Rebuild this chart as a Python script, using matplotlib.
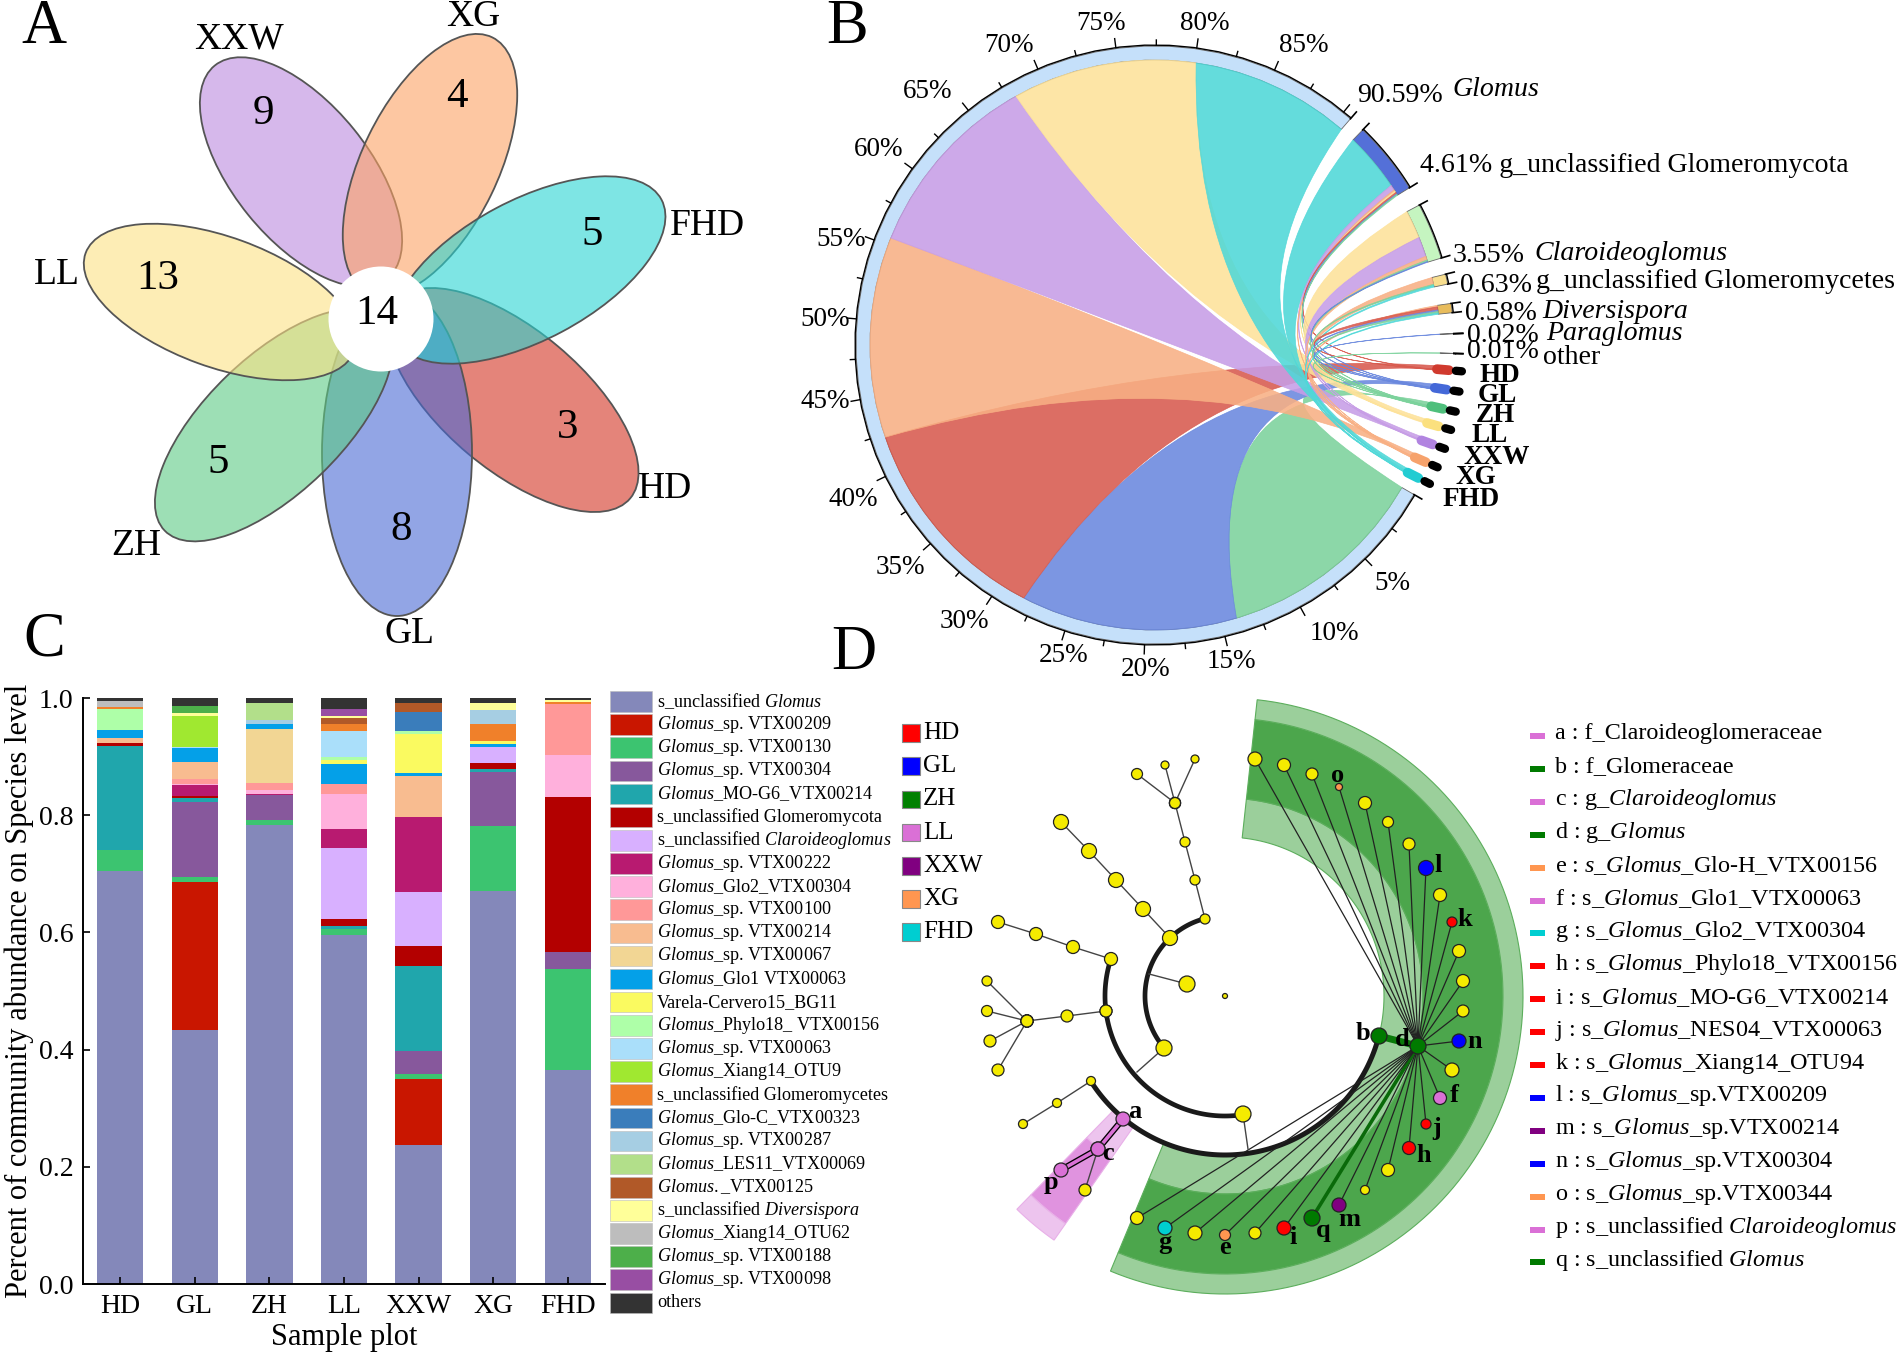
import numpy as np
import matplotlib
matplotlib.use("Agg")
import matplotlib.pyplot as plt
from matplotlib.patches import Ellipse, Circle, PathPatch, Polygon, Rectangle
from matplotlib.path import Path

plt.rcParams['font.family'] = 'Liberation Serif'
plt.rcParams['mathtext.fontset'] = 'custom'
plt.rcParams['mathtext.rm'] = 'Liberation Serif'
plt.rcParams['mathtext.it'] = 'Liberation Serif:italic'
plt.rcParams['mathtext.bf'] = 'Liberation Serif:bold'

# ---- panel A, venn petals (drawn in this order, later ones on top)
venn_names = ['HD', 'GL', 'ZH', 'LL', 'XXW', 'XG', 'FHD']
venn_counts = [3, 8, 5, 13, 9, 4, 5]
venn_core = 14
venn_colors = ['#D23221', '#4969D5', '#5CCB84', '#FCE184', '#BC8ADF', '#FDA364', '#28D5D2']
# centre x, centre y, half length, half width, tilt
petal_cx = [513, 397, 274, 220, 301, 430, 529]
petal_cy = [400, 453, 425, 302, 172, 165, 270]
petal_a = [153, 163, 152, 143, 137, 142, 150]
petal_b = [70, 75, 68, 65, 68, 68, 70]
petal_tilt = [-40, 90, 44, -20, 129, 64, 28]
venn_name_x = [665, 410, 136, 57, 239, 473, 707]
venn_name_y = [489, 634, 546, 275, 39, 17, 226]
venn_num_x = [568, 401, 218, 158, 263, 457, 592]
venn_num_y = [428, 530, 463, 279, 114, 97, 235]

# ---- panel B, chord diagram
chord_samples = ['HD', 'GL', 'ZH', 'LL', 'XXW', 'XG', 'FHD']
chord_colors = {'HD': '#D85A4E', 'GL': '#6A88DE', 'ZH': '#7CD29C', 'LL': '#FDE29A',
                'XXW': '#C79DE6', 'XG': '#F8B084', 'FHD': '#4FD8D8'}
chord_end_colors = {'HD': '#D03A2E', 'GL': '#4468D8', 'ZH': '#4FBF7C', 'LL': '#FBE07E',
                    'XXW': '#B184E0', 'XG': '#F6A26C', 'FHD': '#22CCD2'}
sample_angle = [-4.9, -8.7, -12.5, -16.0, -19.7, -23.4, -26.8]
sample_label_x = [1480, 1478, 1476, 1471, 1463, 1455, 1443]
sample_label_y = [375, 395, 416, 435, 457, 478, 500]

genus_pct = [90.59, 4.61, 3.55, 0.63, 0.58, 0.02, 0.01]
genus_start = [-30, 46, 27.9, 13.7, 8.0, 2.2, -1.6]
genus_ring = ['#C5E0FA', '#5470D8', '#C5F5C0', '#F8DE8E', '#E8BC5C', '#888888', '#888888']
glomus_split = [('ZH', 14.0), ('GL', 14.2), ('HD', 14.1), ('XG', 13.2), ('XXW', 12.5), ('LL', 12.1), ('FHD', 10.49)]
glomeromycota_split = [('FHD', 3.85), ('XXW', 0.35), ('XG', 0.1), ('LL', 0.1), ('HD', 0.1), ('GL', 0.05), ('ZH', 0.06)]
claroideo_split = [('LL', 1.85), ('XXW', 1.3), ('XG', 0.25), ('ZH', 0.1), ('GL', 0.05)]
glomeromycetes_split = [('XG', 0.45), ('ZH', 0.08), ('FHD', 0.1)]
diversispora_split = [('XG', 0.1), ('HD', 0.2), ('GL', 0.1), ('ZH', 0.1), ('FHD', 0.08)]
paraglomus_split = [('GL', 0.02)]
other_split = [('ZH', 0.01)]
genus_splits = [glomus_split, glomeromycota_split, claroideo_split, glomeromycetes_split,
                diversispora_split, paraglomus_split, other_split]
pct_ticks = list(range(5, 90, 5))
pct_x = [1392, 1334, 1231, 1146, 1064, 964, 900, 853, 825, 825, 841, 879, 928, 1009, 1101, 1205, 1304]
pct_y = [583, 633, 662, 670, 656, 622, 568, 500, 401, 319, 239, 149, 91, 46, 24, 24, 46]
# text, x, y, style
chord_text = [('90.59%', 1357, 96, 'normal'), ('Glomus', 1452, 90, 'italic'),
              ('4.61% g_unclassified Glomeromycota', 1420, 166, 'normal'),
              ('3.55%', 1453, 256, 'normal'), ('Claroideoglomus', 1534, 254, 'italic'),
              ('0.63%', 1460, 285, 'normal'), ('g_unclassified Glomeromycetes', 1536, 282, 'normal'),
              ('0.58%', 1465, 313, 'normal'), ('Diversispora', 1542, 311, 'italic'),
              ('0.02%', 1467, 335, 'normal'), ('Paraglomus', 1546, 333, 'italic'),
              ('0.01%', 1467, 352, 'normal'), ('other', 1543, 357, 'normal')]

# ---- panel C, stacked bars
plots = ['HD', 'GL', 'ZH', 'LL', 'XXW', 'XG', 'FHD']
uncl_glomus = [.705, .434, .783, .595, .238, .671, .365]
vtx209 = [0, .252, 0, 0, .112, 0, 0]
vtx130 = [.036, .008, .008, .010, .009, .110, .172]
vtx304 = [0, .129, .044, 0, .039, .093, .030]
mo_g6 = [.177, .007, 0, .006, .145, .005, 0]
uncl_glomeromycota = [.005, .002, 0, .012, .034, .010, .264]
uncl_claro = [0, 0, 0, .121, .092, .028, 0]
vtx222 = [0, .019, .002, .032, .128, 0, 0]
glo2 = [0, .002, .006, .061, 0, 0, .071]
vtx100 = [0, .008, .012, .017, 0, 0, .087]
vtx214 = [.008, .029, 0, 0, .070, 0, .001]
vtx067 = [0, 0, .092, 0, 0, 0, 0]
glo1 = [.015, .024, .009, .034, .005, .005, 0]
varela = [0, 0, 0, .006, .066, .005, 0]
phylo18 = [.035, 0, 0, .006, .005, 0, 0]
vtx063 = [0, .003, 0, .044, 0, 0, 0]
otu9 = [0, .052, 0, 0, 0, 0, 0]
uncl_glomeromycetes = [.003, 0, 0, .011, 0, .028, .004]
glo_c = [0, 0, 0, 0, .033, 0, 0]
vtx287 = [0, 0, .007, 0, 0, .025, 0]
les11 = [0, 0, .029, 0, 0, 0, 0]
vtx125 = [0, 0, 0, .011, .016, 0, 0]
uncl_diversispora = [0, .005, 0, .004, 0, .012, .003]
xiang62 = [.011, 0, 0, 0, 0, 0, 0]
vtx188 = [0, .013, 0, 0, 0, 0, 0]
vtx098 = [0, 0, 0, .011, 0, 0, 0]
others = [.005, .013, .008, .020, .008, .008, .003]
stack_values = [uncl_glomus, vtx209, vtx130, vtx304, mo_g6, uncl_glomeromycota, uncl_claro, vtx222,
                glo2, vtx100, vtx214, vtx067, glo1, varela, phylo18, vtx063, otu9, uncl_glomeromycetes,
                glo_c, vtx287, les11, vtx125, uncl_diversispora, xiang62, vtx188, vtx098, others]
stack_colors = ['#8488BA', '#C91600', '#3CC470', '#87589C', '#20A6AC', '#B30000', '#D8B0FF', '#B81A70',
                '#FFB0DC', '#FF9898', '#F8BC90', '#F2D694', '#04A0E8', '#FAFA60', '#AEFFA8', '#AADFFA',
                '#A0E830', '#F0802A', '#3A7DBB', '#A6CEE3', '#B2DF8A', '#B15928', '#FFFF99', '#BDBDBD',
                '#4DAF4A', '#984EA3', '#333333']
G = r'$\mathit{Glomus}$'
stack_labels = [r's_unclassified ' + G, G + '_sp. VTX00209', G + '_sp. VTX00130', G + '_sp. VTX00304',
                G + '_MO-G6_VTX00214', 's_unclassified Glomeromycota', r's_unclassified $\mathit{Claroideoglomus}$',
                G + '_sp. VTX00222', G + '_Glo2_VTX00304', G + '_sp. VTX00100', G + '_sp. VTX00214',
                G + '_sp. VTX00067', G + '_Glo1 VTX00063', 'Varela-Cervero15_BG11', G + '_Phylo18_ VTX00156',
                G + '_sp. VTX00063', G + '_Xiang14_OTU9', 's_unclassified Glomeromycetes', G + '_Glo-C_VTX00323',
                G + '_sp. VTX00287', G + '_LES11_VTX00069', r'$\mathit{Glomus.}$_VTX00125',
                r's_unclassified $\mathit{Diversispora}$', G + '_Xiang14_OTU62', G + '_sp. VTX00188',
                G + '_sp. VTX00098', 'others']

# ---- panel D, cladogram
clade_names = ['HD', 'GL', 'ZH', 'LL', 'XXW', 'XG', 'FHD']
clade_colors = ['#FF0000', '#0000FF', '#008000', '#DA70D6', '#800080', '#FF9650', '#00CED1']
Y, K, BL, GN, PK, PU, OR, CY = '#F5EB00', '#FF0000', '#0000FF', '#007A00', '#DA70D6', '#800080', '#FF9650', '#00CED1'
# children of d: x, y, radius, colour
d_children = [(1255, 759, 7, Y), (1284, 765, 6.5, Y), (1312, 774, 6, Y), (1339, 787, 3.5, OR), (1365, 803, 6.5, Y),
              (1388, 822, 5.5, Y), (1409, 844, 6, Y), (1426, 868, 7.5, BL), (1440, 895, 6.5, Y), (1452, 922, 5, K),
              (1459, 951, 6.5, Y), (1463, 981, 6.5, Y), (1463, 1011, 6, Y), (1459, 1041, 7, BL), (1452, 1070, 7, Y),
              (1440, 1098, 6.5, PK), (1426, 1124, 5, K), (1409, 1148, 6.5, K), (1388, 1170, 6.5, Y), (1365, 1190, 4.5, Y),
              (1339, 1205, 7, PU), (1312, 1218, 8, GN), (1284, 1228, 7, K), (1255, 1233, 6, Y), (1225, 1235, 5.5, OR),
              (1195, 1233, 7, Y), (1165, 1228, 7, CY), (1137, 1218, 6.5, Y)]
# thin branches as chains of nodes
branch_chains = [[(1170, 938, 7.5), (1143, 909, 7.5), (1116, 880, 7.5), (1089, 851, 7.5), (1061, 822, 7.5)],
                 [(1205, 919, 5), (1195, 880, 5), (1185, 842, 5), (1175, 803, 5.5)],
                 [(1175, 803, 5.5), (1137, 774, 5.5)], [(1175, 803, 5.5), (1165, 765, 4)], [(1175, 803, 5.5), (1195, 759, 4)],
                 [(1111, 959, 6.5), (1073, 947, 6.5), (1036, 934, 6.5), (998, 922, 6.5)],
                 [(1106, 1011, 6), (1067, 1016, 6), (1027, 1021, 6)],
                 [(1027, 1021, 6), (987, 981, 5)], [(1027, 1021, 6), (987, 1011, 5.5)],
                 [(1027, 1021, 6), (990, 1041, 6)], [(1027, 1021, 6), (998, 1070, 6)],
                 [(1091, 1081, 4.5), (1057, 1103, 4.5), (1023, 1124, 4.5)],
                 [(1149, 974, 0), (1187, 984, 8)], [(1137, 1072, 0), (1164, 1048, 8)],
                 [(1248, 1149, 0), (1243, 1114, 8)], [(1098, 1149, 7), (1085, 1190, 6)]]
clade_letters = {'a': (1135, 1111), 'b': (1363, 1034), 'c': (1108, 1154), 'd': (1402, 1039), 'e': (1225, 1248),
                 'f': (1454, 1096), 'g': (1165, 1242), 'h': (1424, 1156), 'i': (1293, 1237), 'j': (1437, 1128),
                 'k': (1465, 919), 'l': (1438, 865), 'm': (1349, 1219), 'n': (1475, 1041), 'o': (1338, 775),
                 'p': (1051, 1183), 'q': (1323, 1231)}
key_letters = ['a', 'b', 'c', 'd', 'e', 'f', 'g', 'h', 'i', 'j', 'k', 'l', 'm', 'n', 'o', 'p', 'q']
key_colors = [PK, GN, PK, GN, OR, PK, CY, K, K, K, K, BL, PU, BL, OR, PK, GN]
key_labels = ['f_Claroideoglomeraceae', 'f_Glomeraceae', r'g_$\mathit{Claroideoglomus}$', r'g_$\mathit{Glomus}$',
              r'$\mathit{s\_Glomus}$_Glo-H_VTX00156', r's_$\mathit{Glomus}$_Glo1_VTX00063',
              r's_$\mathit{Glomus}$_Glo2_VTX00304', r's_$\mathit{Glomus}$_Phylo18_VTX00156',
              r's_$\mathit{Glomus}$_MO-G6_VTX00214', r's_$\mathit{Glomus}$_NES04_VTX00063',
              r's_$\mathit{Glomus}$_Xiang14_OTU94', r's_$\mathit{Glomus}$_sp.VTX00209',
              r's_$\mathit{Glomus}$_sp.VTX00214', r's_$\mathit{Glomus}$_sp.VTX00304',
              r's_$\mathit{Glomus}$_sp.VTX00344', r's_unclassified $\mathit{Claroideoglomus}$',
              r's_unclassified $\mathit{Glomus}$']

fig = plt.figure(figsize=(19.02, 13.55), dpi=100)
ax = fig.add_axes([0, 0, 1, 1])
ax.set_xlim(0, 1902)
ax.set_ylim(1355, 0)
ax.axis('off')

for letter, x, y in [('A', 44, 28), ('B', 847, 28), ('C', 44, 640), ('D', 854, 654)]:
    ax.text(x, y, letter, fontsize=45, ha='center', va='center')

# ---- A
for i in range(len(venn_names)):
    ax.add_patch(Ellipse((petal_cx[i], petal_cy[i]), 2 * petal_a[i], 2 * petal_b[i], angle=-petal_tilt[i],
                         facecolor=matplotlib.colors.to_rgba(venn_colors[i], 0.6),
                         edgecolor='#555555', linewidth=1.3))
    ax.text(venn_name_x[i], venn_name_y[i], venn_names[i], fontsize=27, ha='center', va='center')
    ax.text(venn_num_x[i], venn_num_y[i], str(venn_counts[i]), fontsize=31, ha='center', va='center')
ax.add_patch(Circle((381, 319), 52.5, facecolor='white', edgecolor='none', zorder=3))
ax.text(377, 314, str(venn_core), fontsize=31, ha='center', va='center', zorder=4)

# ---- B
cx, cy = 1155, 345
deg_per_pct = 3.1
ctrl = (1190, 350)


def pt(a, r):
    return cx + r * np.cos(np.radians(a)), cy - r * np.sin(np.radians(a))


def arc(a0, a1, r, n=60):
    t = np.linspace(a0, a1, n)
    return cx + r * np.cos(np.radians(t)), cy - r * np.sin(np.radians(t))


def band(a0, a1, r0, r1, **kw):
    x0, y0 = arc(a0, a1, r0)
    x1, y1 = arc(a1, a0, r1)
    ax.add_patch(Polygon(np.c_[np.r_[x0, x1], np.r_[y0, y1]], closed=True, **kw))


def ribbon(a0, a1, b0, b1, r, color):
    sx, sy = arc(a0, a1, r, 50)
    tx, ty = arc(b0, b1, r, 5)
    verts = list(zip(sx, sy)) + [ctrl, (tx[0], ty[0])] + list(zip(tx[1:], ty[1:])) + [ctrl, (sx[0], sy[0])]
    codes = [Path.MOVETO] + [Path.LINETO] * (len(sx) - 1) + [Path.CURVE3, Path.CURVE3] + \
            [Path.LINETO] * (len(tx) - 1) + [Path.CURVE3, Path.CURVE3]
    ax.add_patch(PathPatch(Path(verts, codes), facecolor=matplotlib.colors.to_rgba(color, 0.88),
                           edgecolor=matplotlib.colors.to_rgba(color, 0.9), linewidth=0.5))


r_in, r_out = 285, 299
# how far each sample's target arc is already filled
used = {s: 0.0 for s in chord_samples}
for g in range(len(genus_pct)):
    a = genus_start[g]
    sweep = genus_pct[g] * deg_per_pct
    band(a, a - sweep, r_in, r_out, facecolor=genus_ring[g], edgecolor='#666666', linewidth=0.6)
    x, y = arc(a, a - sweep, r_out + 1)
    ax.plot(x, y, color='black', lw=1.0, solid_capstyle='butt')
    for e in (a, a - sweep):
        xe, ye = zip(pt(e, r_out), pt(e, r_out + 9))
        ax.plot(xe, ye, color='black', lw=1.2)
    for s, pct in genus_splits[g]:
        w = pct * deg_per_pct
        tw = 0.015 * w + 0.08
        b_mid = sample_angle[chord_samples.index(s)]
        b0 = b_mid + 0.7 - used[s]
        used[s] += tw
        ribbon(a, a - w, b0, b0 - tw, r_in, chord_colors[s])
        a -= w

for p in np.arange(2.5, 90.5, 2.5):
    e = -30 - p * deg_per_pct
    ln = 9 if p % 5 == 0 else 5
    xe, ye = zip(pt(e, 300), pt(e, 300 + ln))
    ax.plot(xe, ye, color='black', lw=1.0)
for i, p in enumerate(pct_ticks):
    ax.text(pct_x[i], pct_y[i], '%d%%' % p, fontsize=19.5, ha='center', va='center')

for i, s in enumerate(chord_samples):
    xe, ye = zip(pt(sample_angle[i], 283), pt(sample_angle[i], 295))
    ax.plot(xe, ye, color=chord_end_colors[s], lw=7, solid_capstyle='round')
    xe, ye = zip(pt(sample_angle[i], 302), pt(sample_angle[i], 308))
    ax.plot(xe, ye, color='black', lw=6, solid_capstyle='round')
    ax.text(sample_label_x[i], sample_label_y[i], s, fontsize=19.5, fontweight='bold', ha='left', va='center')
for txt, x, y, st in chord_text:
    ax.text(x, y, txt, fontsize=20.1, style=st, ha='left', va='center')

# ---- C
ax_c = fig.add_axes([83 / 1902, 1 - 1284 / 1355, 522 / 1902, 586 / 1355])
xpos = np.arange(len(plots))
bottom = np.zeros(len(plots))
for vals, col in zip(stack_values, stack_colors):
    ax_c.bar(xpos, vals, 0.62, bottom=bottom, color=col, linewidth=0)
    bottom = bottom + np.array(vals)
ax_c.set_xlim(-0.5, 6.5)
ax_c.set_ylim(0, 1)
ax_c.set_xticks(xpos)
ax_c.set_xticklabels(plots)
ax_c.set_yticks([0, 0.2, 0.4, 0.6, 0.8, 1.0])
ax_c.set_yticklabels(['0.0', '0.2', '0.4', '0.6', '0.8', '1.0'])
ax_c.set_axisbelow(False)
ax_c.tick_params(axis='both', direction='in', length=5, width=1.2, labelsize=20, pad=7)
ax_c.spines['top'].set_visible(False)
ax_c.spines['right'].set_visible(False)
ax_c.spines['left'].set_linewidth(1.4)
ax_c.spines['bottom'].set_linewidth(1.4)
ax_c.set_xlabel('Sample plot', fontsize=22, labelpad=3)
ax_c.set_ylabel('Percent of community abundance on Species level', fontsize=22, labelpad=3)

for i, lab in enumerate(stack_labels):
    y = 701.5 + i * 23.13
    ax.add_patch(Rectangle((610, y - 10.3), 42, 20.6, facecolor=stack_colors[i], edgecolor='#BBBBBB', linewidth=0.4))
    ax.text(657, y, lab, fontsize=13.1, ha='left', va='center')

# ---- D
dx0, dy0 = 1225, 996


def polar(a, r):
    return dx0 + r * np.cos(np.radians(a)), dy0 - r * np.sin(np.radians(a))


def clade_band(a0, a1, r0, r1, col, edge):
    t = np.linspace(a0, a1, 120)
    xi, yi = polar(t, r0)
    xo, yo = polar(t[::-1], r1)
    ax.add_patch(Polygon(np.c_[np.r_[xi, xo], np.r_[yi, yo]], closed=True, facecolor=col, edgecolor=edge, linewidth=0.8))


for r0, r1, col in [(159, 198, '#9BCF9B'), (198, 278, '#4CA64C'), (278, 298, '#9BCF9B')]:
    clade_band(83.8, -112.6, r0, r1, col, '#5CAE5C')
for r0, r1, col in [(160, 198, '#EDC4EE'), (198, 278, '#E093DF'), (278, 298, '#EDC4EE')]:
    clade_band(-125, -134.3, r0, r1, col, '#E8B0E8')


def tree_arc(a0, a1, r, lw, col='#1A1A1A'):
    t = np.linspace(a0, a1, 120)
    x, y = polar(t, r)
    ax.plot(x, y, color=col, lw=lw, solid_capstyle='round', zorder=4)


def node(x, y, r, col, z=6):
    if r > 0:
        ax.add_patch(Circle((x, y), r, facecolor=col, edgecolor='#222222', linewidth=0.9, zorder=z))


tree_arc(-14.6, -147.6, 159, 3.6)
tree_arc(-81.3, -198, 120, 3.4)
tree_arc(-139.6, -255.4, 80, 3.4)

d_xy = (1418, 1046)
b_xy = (1379, 1036)
for x, y, r, col in d_children:
    if (x, y) == (1312, 1218):
        ax.plot([d_xy[0], x], [d_xy[1], y], color='#0A6A0A', lw=2.6, zorder=4)
    else:
        ax.plot([d_xy[0], x], [d_xy[1], y], color='#222222', lw=0.9, zorder=4)
    node(x, y, r, col)
ax.plot([b_xy[0], d_xy[0]], [b_xy[1], d_xy[1]], color='#0A7A0A', lw=5, zorder=5)

for chain in branch_chains:
    xs = [c[0] for c in chain]
    ys = [c[1] for c in chain]
    ax.plot(xs, ys, color='#444444', lw=1.0, zorder=4)
    for c in chain:
        node(c[0], c[1], c[2], Y)
node(1225, 996, 2.5, Y)
node(1106, 1011, 6, Y)

a_xy, c_xy, p_xy = (1123, 1119), (1098, 1149), (1061, 1170)
for s, e in [(a_xy, c_xy), (c_xy, p_xy)]:
    ax.plot([s[0], e[0]], [s[1], e[1]], color='black', lw=4.5, zorder=4)
    ax.plot([s[0], e[0]], [s[1], e[1]], color=PK, lw=2.6, zorder=4.5)
node(a_xy[0], a_xy[1], 7, PK)
node(c_xy[0], c_xy[1], 7, PK)
node(p_xy[0], p_xy[1], 7, PK)
node(b_xy[0], b_xy[1], 8, GN)
node(d_xy[0], d_xy[1], 8, GN)

for k, (x, y) in clade_letters.items():
    ax.text(x, y, k, fontsize=19, fontweight='bold', ha='center', va='center', zorder=7)

for i, name in enumerate(clade_names):
    y = 733 + i * 33.2
    ax.add_patch(Rectangle((902, y - 8.8), 18, 17.6, facecolor=clade_colors[i], edgecolor='#888888', linewidth=0.8))
    ax.text(923, y, name, fontsize=18, ha='left', va='center')

for i, k in enumerate(key_letters):
    y = 736 + i * 32.9
    ax.add_patch(Rectangle((1530, y - 3), 15, 6, facecolor=key_colors[i], edgecolor='none'))
    ax.text(1555, y - 2, k + ' : ' + key_labels[i], fontsize=17.4, ha='left', va='center')

fig.savefig('out.png', dpi=100)
